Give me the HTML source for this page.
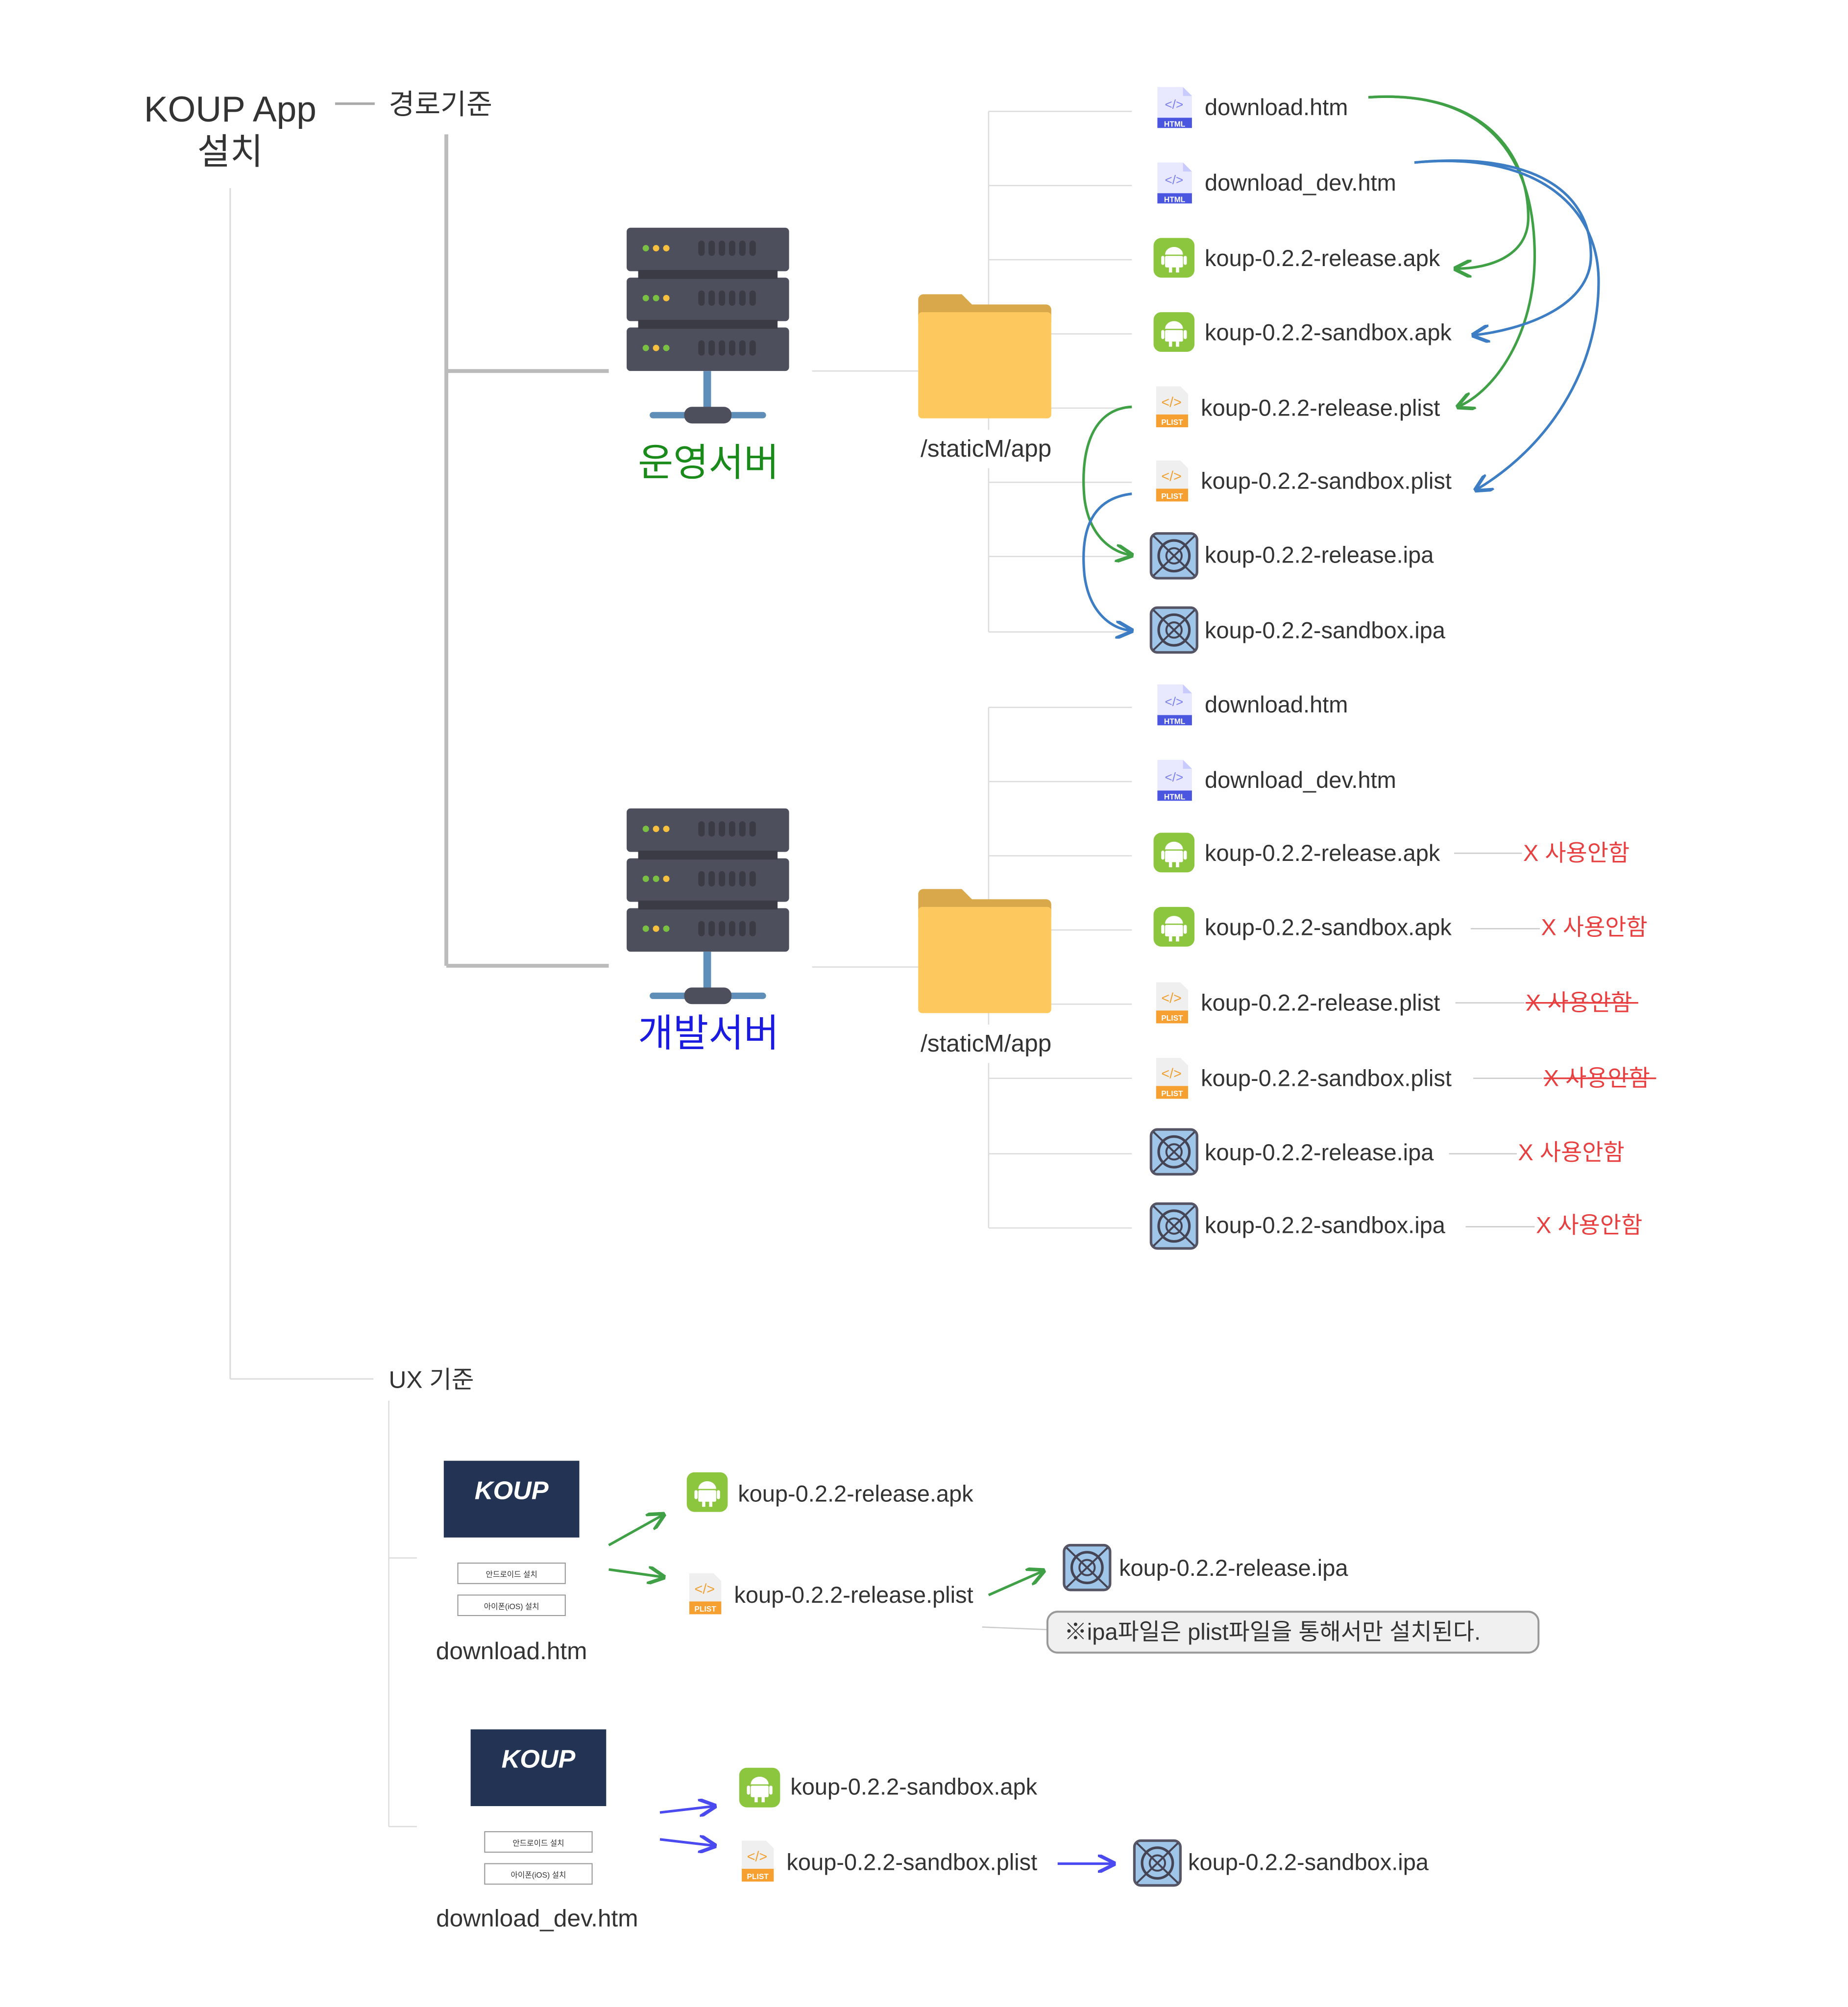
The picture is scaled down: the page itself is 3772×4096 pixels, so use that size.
<!DOCTYPE html>
<html><head><meta charset="utf-8"><style>
html,body{margin:0;padding:0;background:#fff}
svg{display:block}
text{font-family:"Liberation Sans","Noto Sans CJK KR",sans-serif;fill:#333}
</style></head><body>
<svg width="3772" height="4096" viewBox="0 0 1445 1569" xmlns="http://www.w3.org/2000/svg">
<defs>
<g id="html"><path d="M3 0h20l7 7v25H3z" fill="#e8e9ff"/><path d="M23 0v7h7" fill="#c8cbff"/><text x="16" y="17" font-size="10" text-anchor="middle" style="fill:#7a7ff0">&lt;/&gt;</text><rect x="3" y="24" width="27" height="8" fill="#4a55e0"/><text x="16.5" y="31" font-size="6" text-anchor="middle" font-weight="bold" style="fill:#fff">HTML</text></g>
<g id="apk"><rect x="0" y="0" width="32" height="31" rx="6" fill="#8cc63f"/><path d="M9 13a7 6 0 0 1 14 0z" fill="#fff"/><rect x="9" y="14" width="14" height="9" rx="1" fill="#fff"/><rect x="6" y="14" width="2.5" height="7" rx="1.2" fill="#fff"/><rect x="23.5" y="14" width="2.5" height="7" rx="1.2" fill="#fff"/><rect x="12" y="22" width="2.5" height="5" fill="#fff"/><rect x="17.5" y="22" width="2.5" height="5" fill="#fff"/></g>
<g id="plist"><path d="M0 0h19l6 6v26H0z" fill="#efefef"/><text x="12" y="16" font-size="11" text-anchor="middle" style="fill:#f0a030">&lt;/&gt;</text><rect x="0" y="22" width="25" height="10" fill="#f5a030"/><text x="12.5" y="30" font-size="6" text-anchor="middle" font-weight="bold" style="fill:#fff">PLIST</text></g>
<g id="ipa"><rect x="0" y="0" width="36" height="35" rx="5" fill="#9fc5e8" stroke="#556" stroke-width="2"/><circle cx="18" cy="17.5" r="12" fill="none" stroke="#445" stroke-width="2"/><circle cx="18" cy="17.5" r="6" fill="none" stroke="#445" stroke-width="1.5"/><path d="M2 2L34 33M34 2L2 33" stroke="#445" stroke-width="1.5"/></g>
<g id="server">
<rect x="0" y="0" width="127" height="34" rx="3" fill="#4d4f5c"/><rect x="0" y="39" width="127" height="34" rx="3" fill="#4d4f5c"/><rect x="0" y="78" width="127" height="34" rx="3" fill="#4d4f5c"/>
<rect x="9" y="33" width="109" height="7" fill="#3a3b45"/><rect x="9" y="72" width="109" height="7" fill="#3a3b45"/>
<g fill="#3a3b45"><rect x="56" y="10" width="5" height="12" rx="2.5"/><rect x="64" y="10" width="5" height="12" rx="2.5"/><rect x="72" y="10" width="5" height="12" rx="2.5"/><rect x="80" y="10" width="5" height="12" rx="2.5"/><rect x="88" y="10" width="5" height="12" rx="2.5"/><rect x="96" y="10" width="5" height="12" rx="2.5"/>
<rect x="56" y="49" width="5" height="12" rx="2.5"/><rect x="64" y="49" width="5" height="12" rx="2.5"/><rect x="72" y="49" width="5" height="12" rx="2.5"/><rect x="80" y="49" width="5" height="12" rx="2.5"/><rect x="88" y="49" width="5" height="12" rx="2.5"/><rect x="96" y="49" width="5" height="12" rx="2.5"/>
<rect x="56" y="88" width="5" height="12" rx="2.5"/><rect x="64" y="88" width="5" height="12" rx="2.5"/><rect x="72" y="88" width="5" height="12" rx="2.5"/><rect x="80" y="88" width="5" height="12" rx="2.5"/><rect x="88" y="88" width="5" height="12" rx="2.5"/><rect x="96" y="88" width="5" height="12" rx="2.5"/></g>
<circle cx="15" cy="16" r="2.5" fill="#7ac143"/><circle cx="23" cy="16" r="2.5" fill="#f7c13f"/><circle cx="31" cy="16" r="2.5" fill="#f7c13f"/>
<circle cx="15" cy="55" r="2.5" fill="#7ac143"/><circle cx="23" cy="55" r="2.5" fill="#7ac143"/><circle cx="31" cy="55" r="2.5" fill="#f7c13f"/>
<circle cx="15" cy="94" r="2.5" fill="#7ac143"/><circle cx="23" cy="94" r="2.5" fill="#f7c13f"/><circle cx="31" cy="94" r="2.5" fill="#7ac143"/>
<rect x="60" y="112" width="6" height="36" fill="#5f8fb8"/><rect x="18" y="144" width="91" height="5" rx="2.5" fill="#5f8fb8"/><rect x="45" y="140" width="37" height="13" rx="6" fill="#4d4f5c"/>
</g>
<g id="folder"><path d="M0 6a4 4 0 0 1 4-4h30l8 8h58a4 4 0 0 1 4 4v10H0z" fill="#d9a84a"/><rect x="0" y="16" width="104" height="83" rx="3" fill="#fdc95e"/></g>
<g id="shot"><rect x="0" y="0" width="106" height="130" fill="#fff"/><rect x="0" y="0" width="106" height="60" fill="#233354"/><text x="53" y="30" font-size="20" font-weight="bold" font-style="italic" text-anchor="middle" style="fill:#fff">KOUP</text><rect x="11" y="80" width="84" height="16" fill="#fff" stroke="#999" stroke-width="0.8"/><text x="53" y="91" font-size="6" text-anchor="middle">안드로이드 설치</text><rect x="11" y="105" width="84" height="16" fill="#fff" stroke="#999" stroke-width="0.8"/><text x="53" y="116" font-size="6" text-anchor="middle">아이폰(iOS) 설치</text></g>
<marker id="ag" viewBox="0 0 10 10" refX="9" refY="5" markerWidth="7" markerHeight="7" orient="auto-start-reverse"><path d="M0 0L10 5L0 10" fill="none" stroke="#3fa046" stroke-width="2"/></marker>
<marker id="ab" viewBox="0 0 10 10" refX="9" refY="5" markerWidth="7" markerHeight="7" orient="auto-start-reverse"><path d="M0 0L10 5L0 10" fill="none" stroke="#3d7dc4" stroke-width="2"/></marker>
<marker id="ap" viewBox="0 0 10 10" refX="9" refY="5" markerWidth="7" markerHeight="7" orient="auto-start-reverse"><path d="M0 0L10 5L0 10" fill="none" stroke="#4a4af0" stroke-width="2"/></marker>
</defs>

<text x="180" y="95" font-size="28" text-anchor="middle">KOUP App</text>
<text x="180" y="128" font-size="28" text-anchor="middle">설치</text>
<line x1="262" y1="81" x2="293" y2="81" stroke="#aaa" stroke-width="2"/>
<text x="304" y="89" font-size="22">경로기준</text>
<line x1="180" y1="147" x2="180" y2="1078" stroke="#ddd" stroke-width="1.2"/>
<line x1="180" y1="1078" x2="292" y2="1078" stroke="#ddd" stroke-width="1.2"/>
<text x="304" y="1085" font-size="19">UX 기준</text>

<path d="M349 105V755M349 290H476M349 755H476" fill="none" stroke="#bbb" stroke-width="3"/>
<use href="#server" x="490" y="178"/>
<text x="554" y="372" font-size="30" text-anchor="middle" style="fill:#1a8a1a">운영서버</text>
<use href="#server" x="490" y="632"/>
<text x="554" y="818" font-size="30" text-anchor="middle" style="fill:#1a1ae0">개발서버</text>
<line x1="635" y1="290" x2="718" y2="290" stroke="#ddd"/>
<line x1="635" y1="756" x2="718" y2="756" stroke="#ddd"/>

<g stroke="#ddd" stroke-width="1" fill="none">
<path d="M773 87V494M773 87H885M773 145H885M773 203H885M773 261H885M773 319H885M773 377H885M773 435H885M773 494H885"/>
<path d="M773 553V960M773 553H885M773 611H885M773 669H885M773 727H885M773 785H885M773 843H885M773 902H885M773 960H885"/>
</g>
<rect x="710" y="336" width="124" height="30" fill="#fff"/>
<rect x="710" y="801" width="124" height="30" fill="#fff"/>
<use href="#folder" x="718" y="228"/>
<text x="771" y="357" font-size="19" text-anchor="middle">/staticM/app</text>
<use href="#folder" x="718" y="693"/>
<text x="771" y="822" font-size="19" text-anchor="middle">/staticM/app</text>

<g font-size="18">
<use href="#html" x="902" y="68"/><text x="942" y="90">download.htm</text>
<use href="#html" x="902" y="127"/><text x="942" y="149">download_dev.htm</text>
<use href="#apk" x="902" y="186"/><text x="942" y="208">koup-0.2.2-release.apk</text>
<use href="#apk" x="902" y="244"/><text x="942" y="266">koup-0.2.2-sandbox.apk</text>
<use href="#plist" x="904" y="302"/><text x="939" y="325">koup-0.2.2-release.plist</text>
<use href="#plist" x="904" y="360"/><text x="939" y="382">koup-0.2.2-sandbox.plist</text>
<use href="#ipa" x="900" y="417"/><text x="942" y="440">koup-0.2.2-release.ipa</text>
<use href="#ipa" x="900" y="475"/><text x="942" y="499">koup-0.2.2-sandbox.ipa</text>

<use href="#html" x="902" y="535"/><text x="942" y="557">download.htm</text>
<use href="#html" x="902" y="594"/><text x="942" y="616">download_dev.htm</text>
<use href="#apk" x="902" y="651"/><text x="942" y="673">koup-0.2.2-release.apk</text>
<use href="#apk" x="902" y="709"/><text x="942" y="731">koup-0.2.2-sandbox.apk</text>
<use href="#plist" x="904" y="768"/><text x="939" y="790">koup-0.2.2-release.plist</text>
<use href="#plist" x="904" y="827"/><text x="939" y="849">koup-0.2.2-sandbox.plist</text>
<use href="#ipa" x="900" y="883"/><text x="942" y="907">koup-0.2.2-release.ipa</text>
<use href="#ipa" x="900" y="941"/><text x="942" y="964">koup-0.2.2-sandbox.ipa</text>
</g>

<g stroke="#ccc" stroke-width="1">
<line x1="1137" y1="667" x2="1190" y2="667"/><line x1="1150" y1="726" x2="1204" y2="726"/>
<line x1="1138" y1="784" x2="1192" y2="784"/><line x1="1152" y1="843" x2="1206" y2="843"/>
<line x1="1133" y1="902" x2="1186" y2="902"/><line x1="1146" y1="959" x2="1200" y2="959"/>
</g>
<g font-size="18">
<text x="1191" y="673" style="fill:#e84040">X 사용안함</text>
<text x="1205" y="731" style="fill:#e84040">X 사용안함</text>
<text x="1193" y="790" style="fill:#e84040">X 사용안함</text>
<text x="1207" y="849" style="fill:#e84040">X 사용안함</text>
<text x="1187" y="907" style="fill:#e84040">X 사용안함</text>
<text x="1201" y="964" style="fill:#e84040">X 사용안함</text>
</g>
<line x1="1193" y1="784" x2="1281" y2="784" stroke="#e84040" stroke-width="1.3"/>
<line x1="1207" y1="843" x2="1295" y2="843" stroke="#e84040" stroke-width="1.3"/>

<g fill="none" stroke-width="2">
<path d="M1070 76C1160 70 1195 120 1195 170C1195 200 1165 210 1138 210" stroke="#3fa046" marker-end="url(#ag)"/>
<path d="M1070 76C1160 70 1200 120 1200 200C1200 260 1170 305 1140 318" stroke="#3fa046" marker-end="url(#ag)"/>
<path d="M1106 127C1200 118 1244 150 1244 200C1244 240 1190 258 1152 262" stroke="#3d7dc4" marker-end="url(#ab)"/>
<path d="M1106 127C1200 118 1250 160 1250 220C1250 290 1210 350 1154 383" stroke="#3d7dc4" marker-end="url(#ab)"/>
<path d="M885 318C850 320 845 360 848 390C852 420 870 432 885 434" stroke="#3fa046" marker-end="url(#ag)"/>
<path d="M885 386C850 390 845 420 848 450C852 480 870 492 885 493" stroke="#3d7dc4" marker-end="url(#ab)"/>
</g>

<path d="M304 1095V1428M304 1218H326M304 1428H326" fill="none" stroke="#ddd"/>
<use href="#shot" x="347" y="1142"/>
<text x="400" y="1297" font-size="19" text-anchor="middle">download.htm</text>
<use href="#shot" x="368" y="1352"/>
<text x="420" y="1506" font-size="19" text-anchor="middle">download_dev.htm</text>

<g fill="none" stroke-width="2">
<line x1="476" y1="1208" x2="519" y2="1184" stroke="#3fa046" marker-end="url(#ag)"/>
<line x1="476" y1="1227" x2="519" y2="1233" stroke="#3fa046" marker-end="url(#ag)"/>
<line x1="773" y1="1247" x2="816" y2="1228" stroke="#3fa046" marker-end="url(#ag)"/>
<line x1="516" y1="1417" x2="559" y2="1412" stroke="#4a4af0" marker-end="url(#ap)"/>
<line x1="516" y1="1438" x2="559" y2="1443" stroke="#4a4af0" marker-end="url(#ap)"/>
<line x1="827" y1="1457" x2="871" y2="1457" stroke="#4a4af0" marker-end="url(#ap)"/>
</g>
<g font-size="18">
<use href="#apk" x="537" y="1151"/><text x="577" y="1174">koup-0.2.2-release.apk</text>
<use href="#plist" x="539" y="1230"/><text x="574" y="1253">koup-0.2.2-release.plist</text>
<use href="#ipa" x="832" y="1208"/><text x="875" y="1232">koup-0.2.2-release.ipa</text>
<use href="#apk" x="578" y="1382"/><text x="618" y="1403">koup-0.2.2-sandbox.apk</text>
<use href="#plist" x="580" y="1439"/><text x="615" y="1462">koup-0.2.2-sandbox.plist</text>
<use href="#ipa" x="887" y="1439"/><text x="929" y="1462">koup-0.2.2-sandbox.ipa</text>
</g>
<line x1="768" y1="1272" x2="819" y2="1274" stroke="#ccc"/>
<rect x="819" y="1260" width="384" height="32" rx="8" fill="#f0f0f0" stroke="#999" stroke-width="1.5"/>
<text x="832" y="1282" font-size="18">※ipa파일은  plist파일을  통해서만  설치된다.</text>
</svg>
</body></html>
